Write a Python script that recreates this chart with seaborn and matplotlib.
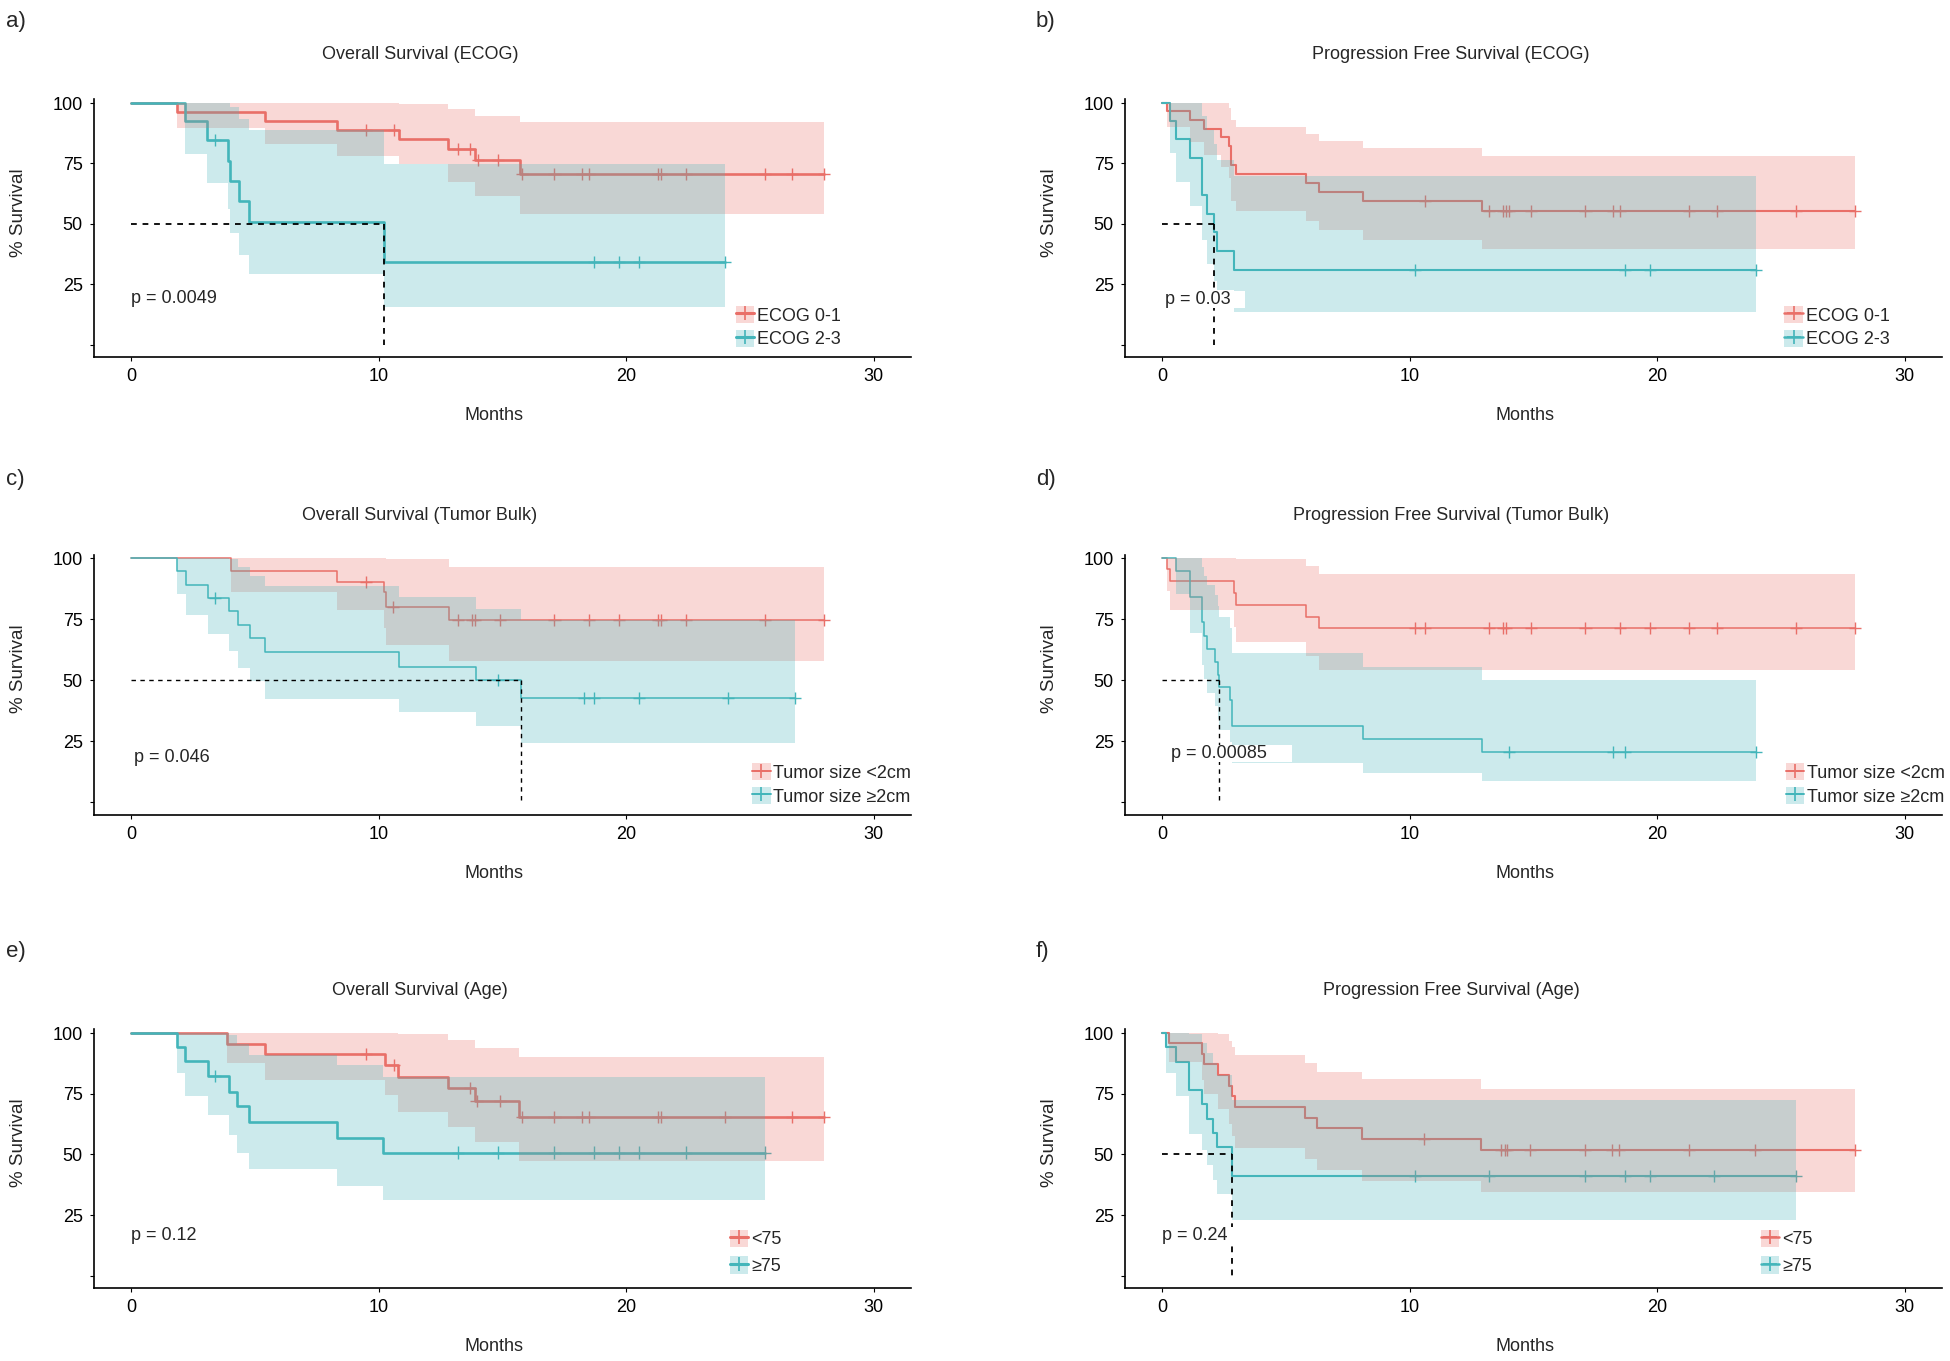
import matplotlib
matplotlib.use("Agg")
import matplotlib.pyplot as plt
import seaborn as sns
import numpy as np
import pandas as pd
from matplotlib.patches import Patch
from matplotlib.lines import Line2D
from matplotlib.legend_handler import HandlerTuple
from matplotlib.path import Path

RED = "#E96F68"
TEAL = "#43B5BA"
BAND_ALPHA = 0.27

# ------------------- a) Overall Survival (ECOG) -------------------
A1_TIME = [0, 1.87, 5.42, 8.31, 10.8, 12.8, 13.9, 15.7]
A1_SURV = [100, 96.3, 92.7, 89.0, 85.1, 81.0, 76.4, 70.5]
A1_LOW = [100, 89.7, 83.2, 77.9, 74.9, 67.2, 61.5, 54.1]
A1_UPP = [100, 100, 100, 100, 99.7, 97.5, 94.8, 92.0]
A1_CENS = [9.5, 10.6, 13.2, 13.7, 14.0, 14.8, 15.8, 17.1, 18.2, 18.5, 21.3, 21.4, 22.4, 25.6, 26.7, 28.0]

A2_TIME = [0, 2.19, 3.05, 3.9, 4.0, 4.34, 4.77, 10.2]
A2_SURV = [100, 92.4, 84.8, 76.1, 67.6, 59.3, 51.0, 34.1]
A2_LOW = [100, 78.8, 67.0, 56.0, 46.2, 37.2, 29.2, 15.7]
A2_UPP = [100, 100, 100, 100, 98.5, 93.5, 88.7, 74.9]
A2_CENS = [3.37, 18.7, 19.7, 20.5, 24.0]

# ------------------- b) Progression Free Survival (ECOG) -------------------
B1_TIME = [0, 0.21, 1.12, 1.70, 2.36, 2.69, 2.79, 2.99, 5.8, 6.32, 8.12, 12.93]
B1_SURV = [100, 96.8, 93.1, 89.4, 85.8, 82.1, 74.5, 70.6, 66.8, 63.2, 59.4, 55.4]
B1_LOW = [100, 90.0, 84.0, 78.5, 73.6, 68.8, 59.7, 55.3, 51.3, 47.3, 43.4, 39.6]
B1_UPP = [100, 100, 100, 100, 100, 98.0, 93.0, 90.1, 87.3, 84.4, 81.4, 78.2]
B1_CENS = [10.6, 13.2, 13.75, 13.9, 14.0, 14.9, 17.1, 18.2, 18.5, 21.3, 22.4, 25.6, 28.0]

B2_TIME = [0, 0.3, 0.58, 1.12, 1.61, 1.83, 2.10, 2.22, 2.90]
B2_SURV = [100, 92.6, 85.0, 77.3, 61.9, 54.2, 46.6, 38.8, 30.9]
B2_LOW = [100, 79.2, 67.4, 57.5, 43.5, 33.5, 26.5, 22.5, 13.8]
B2_UPP = [100, 100, 100, 100, 94.5, 89.0, 83.0, 76.6, 69.7]
B2_CENS = [10.2, 18.7, 19.7, 24.0]

# ------------------- c) Overall Survival (Tumor Bulk) -------------------
C1_TIME = [0, 4.02, 8.31, 10.2, 10.3, 12.82]
C1_SURV = [100, 94.9, 90.1, 86.0, 80.0, 74.8]
C1_LOW = [100, 86.2, 78.6, 71.5, 64.6, 57.9]
C1_UPP = [100, 100, 100, 100, 99.6, 96.3]
C1_CENS = [9.5, 10.57, 13.2, 13.75, 13.9, 14.9, 17.1, 18.5, 19.7, 21.3, 21.4, 22.4, 25.6, 28.0]

C2_TIME = [0, 1.87, 2.23, 3.11, 3.95, 4.3, 4.81, 5.41, 10.83, 13.94, 15.73]
C2_SURV = [100, 94.8, 89.2, 83.9, 78.3, 72.7, 67.2, 61.4, 55.6, 50.1, 42.8]
C2_LOW = [100, 85.5, 76.6, 69.0, 61.8, 54.9, 49.7, 42.5, 36.8, 31.4, 24.4]
C2_UPP = [100, 100, 100, 100, 99.8, 96.5, 92.8, 88.7, 84.1, 79.3, 74.8]
C2_CENS = [3.4, 14.8, 18.3, 18.7, 20.5, 24.1, 26.8]

# ------------------- d) Progression Free Survival (Tumor Bulk) -------------------
D1_TIME = [0, 0.21, 0.32, 2.9, 3.0, 5.8, 6.32]
D1_SURV = [100, 95.4, 90.6, 85.9, 81.0, 76.1, 71.3]
D1_LOW = [100, 86.4, 78.6, 72.0, 65.5, 60.0, 54.2]
D1_UPP = [100, 100, 100, 100, 99.7, 97.0, 93.5]
D1_CENS = [10.2, 10.6, 13.2, 13.75, 13.9, 14.9, 17.1, 18.5, 19.7, 21.3, 22.4, 25.6, 28.0]

D2_TIME = [0, 0.58, 1.12, 1.61, 1.70, 1.83, 2.15, 2.26, 2.30, 2.73, 2.84, 8.12, 12.93]
D2_SURV = [100, 94.7, 84.1, 73.7, 68.0, 62.9, 57.4, 52.1, 47.1, 42.0, 31.2, 25.9, 20.6]
D2_LOW = [100, 85.2, 69.5, 56.3, 50.4, 44.9, 39.4, 34.3, 29.5, 24.8, 16.0, 12.0, 8.6]
D2_UPP = [100, 100, 100, 96.4, 92.9, 89.0, 85.1, 80.6, 76.1, 71.3, 61.0, 55.5, 50.0]
D2_CENS = [14.0, 18.2, 18.7, 24.0]

# ------------------- e) Overall Survival (Age) -------------------
E1_TIME = [0, 3.87, 5.41, 10.25, 10.78, 12.78, 13.88, 15.68]
E1_SURV = [100, 95.6, 91.3, 86.9, 82.1, 77.2, 72.0, 65.5]
E1_LOW = [100, 87.6, 80.7, 74.5, 67.6, 61.4, 55.2, 47.3]
E1_UPP = [100, 100, 100, 100, 99.6, 97.2, 93.8, 90.3]
E1_CENS = [9.5, 10.6, 13.7, 13.95, 14.9, 15.8, 17.1, 18.2, 18.5, 21.3, 21.4, 24.0, 26.7, 28.0]

E2_TIME = [0, 1.87, 2.19, 3.09, 3.97, 4.27, 4.77, 8.31, 10.18]
E2_SURV = [100, 94.2, 88.3, 82.5, 75.9, 69.9, 63.4, 56.8, 50.8]
E2_LOW = [100, 83.4, 74.2, 66.2, 58.2, 50.8, 43.9, 37.2, 31.4]
E2_UPP = [100, 100, 100, 100, 99.2, 95.5, 91.0, 87.0, 82.1]
E2_CENS = [3.37, 13.2, 14.8, 17.1, 18.7, 19.7, 20.5, 22.4, 25.6]

# ------------------- f) Progression Free Survival (Age) -------------------
F1_TIME = [0, 0.26, 1.59, 1.69, 2.26, 2.69, 2.81, 2.96, 5.77, 6.27, 8.09, 12.86]
F1_SURV = [100, 95.8, 91.4, 87.3, 82.9, 78.1, 74.0, 69.6, 65.2, 60.8, 56.4, 51.8]
F1_LOW = [100, 88.1, 80.5, 74.7, 68.7, 62.6, 57.8, 52.8, 48.0, 43.4, 39.0, 34.5]
F1_UPP = [100, 100, 100, 100, 99.8, 96.8, 94.1, 91.0, 87.6, 84.1, 81.0, 77.0]
F1_CENS = [10.57, 13.7, 13.83, 13.94, 14.87, 17.08, 18.17, 18.45, 21.27, 23.95, 28.0]

F2_TIME = [0, 0.17, 0.58, 1.10, 1.59, 1.80, 2.06, 2.20, 2.81]
F2_SURV = [100, 94.2, 88.2, 76.4, 70.6, 64.7, 58.8, 52.9, 41.0]
F2_LOW = [100, 83.7, 74.1, 58.6, 52.0, 45.5, 39.5, 33.8, 23.2]
F2_UPP = [100, 100, 100, 99.5, 95.9, 91.9, 87.5, 82.9, 72.5]
F2_CENS = [10.2, 13.2, 17.1, 18.7, 19.7, 22.3, 25.6]

TITLES = ["Overall Survival (ECOG)", "Progression Free Survival (ECOG)",
          "Overall Survival (Tumor Bulk)", "Progression Free Survival (Tumor Bulk)",
          "Overall Survival (Age)", "Progression Free Survival (Age)"]
PANEL_TAGS = ["a)", "b)", "c)", "d)", "e)", "f)"]
P_VALUES = ["p = 0.0049", "p = 0.03", "p = 0.046", "p = 0.00085", "p = 0.12", "p = 0.24"]
GROUP_LABELS = [["ECOG 0-1", "ECOG 2-3"], ["ECOG 0-1", "ECOG 2-3"],
                ["Tumor size <2cm", "Tumor size \u22652cm"], ["Tumor size <2cm", "Tumor size \u22652cm"],
                ["<75", "\u226575"], ["<75", "\u226575"]]
Y_TICKS = [0, 25, 50, 75, 100]
Y_TICK_LABELS = ["", "25", "50", "75", "100"]
X_TICKS = [0, 10, 20, 30]


def curve(t, s, lo, hi, cens):
    return dict(t=t, s=s, lo=lo, hi=hi, cens=cens)


CURVES = [
    (curve(A1_TIME, A1_SURV, A1_LOW, A1_UPP, A1_CENS), curve(A2_TIME, A2_SURV, A2_LOW, A2_UPP, A2_CENS)),
    (curve(B1_TIME, B1_SURV, B1_LOW, B1_UPP, B1_CENS), curve(B2_TIME, B2_SURV, B2_LOW, B2_UPP, B2_CENS)),
    (curve(C1_TIME, C1_SURV, C1_LOW, C1_UPP, C1_CENS), curve(C2_TIME, C2_SURV, C2_LOW, C2_UPP, C2_CENS)),
    (curve(D1_TIME, D1_SURV, D1_LOW, D1_UPP, D1_CENS), curve(D2_TIME, D2_SURV, D2_LOW, D2_UPP, D2_CENS)),
    (curve(E1_TIME, E1_SURV, E1_LOW, E1_UPP, E1_CENS), curve(E2_TIME, E2_SURV, E2_LOW, E2_UPP, E2_CENS)),
    (curve(F1_TIME, F1_SURV, F1_LOW, F1_UPP, F1_CENS), curve(F2_TIME, F2_SURV, F2_LOW, F2_UPP, F2_CENS)),
]

# layout (per panel): line width, legend anchor (months, %), legend row gap, p-box extra width
LINE_W = [1.9, 1.5, 1.1, 1.1, 1.9, 1.5]
LEGEND_AT = [(24.42, -1.4), (25.13, -1.4), (25.07, -1.4), (25.18, -1.4), (24.17, 0.3), (24.17, 0.3)]
LEGEND_GAP = [0.28, 0.28, 0.28, 0.28, 0.45, 0.45]
P_AT = [(0.0, 19.3), (0.1, 18.6), (0.1, 18.2), (0.37, 19.9), (0.0, 16.6), (0.0, 16.6)]
P_EXTRA = [0.8, 0.8, 0.8, 1.35, 0.8, 0.6]


def p_box(extra):
    # white box behind the p-value, wider on the right like the original
    def box(x0, y0, width, height, mutation_size):
        x1 = x0 + width + extra * mutation_size
        return Path([(x0, y0), (x1, y0), (x1, y0 + height), (x0, y0 + height), (x0, y0)], closed=True)
    return box


def km_panel(ax, idx):
    colors = [RED, TEAL]
    lw = LINE_W[idx]
    lines, marks = [], []
    medians = []
    for g, (c, col) in enumerate(zip(CURVES[idx], colors)):
        t = np.array(c["t"], dtype=float)
        s = np.array(c["s"], dtype=float)
        end = max(max(c["cens"]), t[-1])
        t_ext = np.append(t, end)
        lines.append(pd.DataFrame({"month": t_ext, "surv": np.append(s, s[-1]), "group": g}))
        cens = np.array(c["cens"], dtype=float)
        cy = s[np.searchsorted(t, cens, side="right") - 1]
        marks.append(pd.DataFrame({"month": cens, "surv": cy, "group": g}))
        # confidence band drawn on top of the line (as in the original)
        ax.fill_between(t_ext, np.append(c["lo"], c["lo"][-1]), np.append(c["hi"], c["hi"][-1]),
                        step="post", color=col, alpha=BAND_ALPHA, lw=0, zorder=3)
        below = np.where(s <= 50)[0]
        if len(below):
            medians.append(t[below[0]])

    line_df = pd.concat(lines)
    mark_df = pd.concat(marks)
    sns.lineplot(data=line_df, x="month", y="surv", hue="group", palette=colors,
                 drawstyle="steps-post", estimator=None, legend=False, lw=lw, ax=ax, zorder=2)
    sns.scatterplot(data=mark_df, x="month", y="surv", hue="group", palette=colors,
                    marker="+", s=75, linewidth=1.0, legend=False, ax=ax, zorder=2)

    # median survival lines
    med_lw = 1.3 if lw > 1.3 else 1.0
    if medians:
        ax.plot([0, max(medians)], [50, 50], color="black", lw=med_lw, ls=(0, (3.2, 3.2)), zorder=4)
        for m in medians:
            ax.plot([m, m], [50, 0], color="black", lw=med_lw, ls=(0, (3.2, 3.2)), zorder=4)

    # p-value
    px, py = P_AT[idx]
    ax.text(px, py, P_VALUES[idx], fontsize=13, ha="left", va="center", zorder=6,
            bbox=dict(boxstyle=p_box(P_EXTRA[idx]), fc="white", ec="none"))

    # legend: shaded key with the line and a censor cross on top
    handles = []
    for col in colors:
        handles.append((Patch(fc=col, alpha=BAND_ALPHA, ec="none"),
                        Line2D([], [], color=col, lw=lw + 0.3, marker="+", ms=10, mew=1.2)))
    ax.legend(handles=handles, labels=GROUP_LABELS[idx], handler_map={tuple: HandlerTuple(ndivide=1, pad=0)},
              loc="lower left", bbox_to_anchor=LEGEND_AT[idx], bbox_transform=ax.transData,
              frameon=False, fontsize=13, borderpad=0, borderaxespad=0, handlelength=1.04,
              handleheight=1.085, handletextpad=0.15, labelspacing=LEGEND_GAP[idx], numpoints=1)

    ax.set_xlim(-1.5, 31.5)
    ax.set_ylim(-5, 101.5)
    ax.set_xticks(X_TICKS)
    ax.set_yticks(Y_TICKS)
    ax.set_yticklabels(Y_TICK_LABELS)
    ax.tick_params(axis="both", labelsize=13, length=3, width=0.8, pad=5, colors="black")
    for side in ["top", "right"]:
        ax.spines[side].set_visible(False)
    for side in ["left", "bottom"]:
        ax.spines[side].set_linewidth(1.2)
        ax.spines[side].set_color("black")

    ax.set_xlabel("Months", fontsize=13)
    ax.set_ylabel("% Survival", fontsize=13.5)
    ax.xaxis.label.set_va("center")
    ax.yaxis.label.set_va("center")
    ax.xaxis.set_label_coords(0.49, -0.226)
    ax.yaxis.set_label_coords(-0.093, 0.562)


sns.set_style("ticks")
plt.rcParams["font.family"] = ["Liberation Sans", "DejaVu Sans"]

fig = plt.figure(figsize=(19.5, 13.61), dpi=100)

COL_X = [94 / 1950, 1125 / 1950]
COL_W = 817 / 1950
ROWS = [(1 - 357 / 1361, 257.6 / 1361), (1 - 814.5 / 1361, 259.9 / 1361), (1 - 1288 / 1361, 258.6 / 1361)]
TITLE_Y = [1.176, 1.149, 1.152]
TAG_Y = [1 - 21 / 1361, 1 - 479 / 1361, 1 - 952 / 1361]
TAG_X = [6 / 1950, 1036 / 1950]

for i in range(6):
    r, c = divmod(i, 2)
    ax = fig.add_axes([COL_X[c], ROWS[r][0], COL_W, ROWS[r][1]])
    km_panel(ax, i)
    ax.text(0.399, TITLE_Y[r], TITLES[i], transform=ax.transAxes, ha="center", va="center", fontsize=13)
    fig.text(TAG_X[c], TAG_Y[r], PANEL_TAGS[i], ha="left", va="center", fontsize=16)

fig.savefig("out.png", dpi=100, facecolor="white")
